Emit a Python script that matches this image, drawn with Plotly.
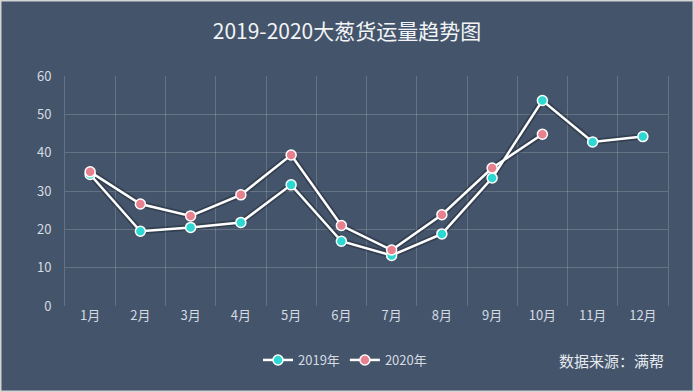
import plotly.graph_objects as go

months = ["1月", "2月", "3月", "4月", "5月", "6月", "7月", "8月", "9月", "10月", "11月", "12月"]
v2019 = [34.3, 19.5, 20.5, 21.8, 31.6, 16.9, 13.2, 18.8, 33.4, 53.6, 42.8, 44.2]
v2020 = [35.0, 26.6, 23.5, 29.0, 39.4, 21.0, 14.6, 23.8, 36.0, 44.8]
names = ["2019年", "2020年"]
yticks = [0, 10, 20, 30, 40, 50, 60]

W, H = 694, 392
ml, mr, mt, mb = 65, 26, 76, 86
pw, ph = W - ml - mr, H - mt - mb

bg = "#44546A"
grid = "rgba(255,255,255,0.18)"
fnt = "Noto Sans CJK SC, Microsoft YaHei, sans-serif"

fig = go.Figure()
for vals in [v2019, v2020]:
    fig.add_trace(go.Scatter(
        x=months[:len(vals)], y=vals, mode="lines", showlegend=False, hoverinfo="skip",
        line=dict(color="rgba(20,25,35,0.35)", width=6)))
for vals, col, nm in [(v2019, "#2ED8D2", names[0]), (v2020, "#E8818F", names[1])]:
    fig.add_trace(go.Scatter(
        x=months[:len(vals)], y=vals, mode="lines+markers", name=nm,
        line=dict(color="white", width=2.5),
        marker=dict(size=10, color=col, line=dict(color="white", width=1.5))))

fig.update_layout(
    width=W, height=H,
    margin=dict(l=ml, r=mr, t=mt, b=mb),
    paper_bgcolor=bg, plot_bgcolor=bg,
    font=dict(family=fnt, color="#D5DBE3", size=13),
    title=dict(text="2019-2020大葱货运量趋势图", x=0.5, xanchor="center", y=1 - 32 / H, yanchor="middle",
               font=dict(size=21, color="#F2F4F7", family=fnt)),
    legend=dict(orientation="h", x=(345 - ml) / pw, xanchor="center", y=(306 - 360) / ph, yanchor="middle",
                font=dict(size=13, color="#D5DBE3"), bgcolor="rgba(0,0,0,0)", itemwidth=30),
    showlegend=True,
)
fig.update_xaxes(type="category", categoryorder="array", categoryarray=months,
                 tickson="boundaries", showgrid=True, gridcolor=grid, gridwidth=1,
                 ticks="", zeroline=False, showline=False, tickfont=dict(size=13, color="#D5DBE3"),
                 range=[-0.5, 11.5])
fig.update_yaxes(range=[0, 60], tickvals=yticks, showgrid=True, gridcolor=grid,
                 gridwidth=1, zeroline=False, showline=True, linecolor=grid, linewidth=1, mirror=True,
                 ticks="", ticklabelstandoff=10, tickfont=dict(size=13, color="#D5DBE3"))
fig.add_annotation(text="数据来源：满帮", xref="paper", yref="paper", x=(666 - ml) / pw, xanchor="right",
                   y=(306 - 360) / ph, yanchor="middle", showarrow=False,
                   font=dict(size=15, color="#E6EAF0", family=fnt))
fig.add_shape(type="rect", xref="paper", yref="paper", x0=-ml / pw, x1=1 + mr / pw, y0=-mb / ph, y1=1 + mt / ph,
              line=dict(color="#D4D4D4", width=3), layer="above")

fig.write_html("out.html", config={"displayModeBar": False},
               post_script="document.body.style.margin='0';")
